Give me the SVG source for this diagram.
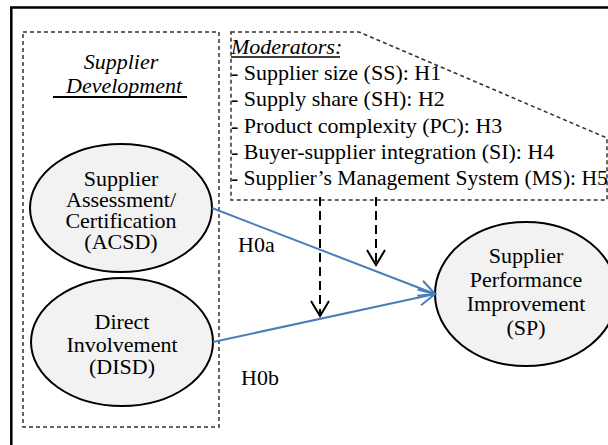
<svg xmlns="http://www.w3.org/2000/svg" width="608" height="445" viewBox="0 0 608 445">
<defs>
<marker id="ab" viewBox="0 0 20 20" refX="18" refY="10" markerWidth="20" markerHeight="20" markerUnits="userSpaceOnUse" orient="auto">
<path d="M2,2 L18,10 L2,18" fill="none" stroke="#4a7ebb" stroke-width="2"/>
</marker>
<marker id="ak" viewBox="0 0 20 20" refX="18" refY="10" markerWidth="20" markerHeight="20" markerUnits="userSpaceOnUse" orient="auto">
<path d="M3,1 L18,10 L3,19" fill="none" stroke="#000" stroke-width="2"/>
</marker>
</defs>
<rect width="608" height="445" fill="#fff"/>
<g id="frame">
<path d="M11.3,445 V7.5 H608" fill="none" stroke="#000" stroke-width="2.5"/>
</g>
<g id="supplier-development" font-family="Liberation Serif" font-size="22" font-style="italic">
<rect x="23" y="32" width="196" height="395" fill="none" stroke="#333" stroke-width="1.5" stroke-dasharray="4 3"/>
<text x="121" y="69" text-anchor="middle">Supplier</text>
<text x="66" y="93">Development</text>
<line x1="53" y1="97" x2="187" y2="97" stroke="#000" stroke-width="2"/>
</g>
<g id="moderators" font-family="Liberation Serif" font-size="22">
<path d="M231,32 H359 L607,138 V200 H231 Z" fill="none" stroke="#333" stroke-width="1.5" stroke-dasharray="4 3"/>
<text x="231" y="54" font-style="italic">Moderators:</text>
<line x1="231" y1="57" x2="340" y2="57" stroke="#000" stroke-width="1.5"/>
<text x="231" y="80">- Supplier size (SS): H1</text>
<text x="231" y="106">- Supply share (SH): H2</text>
<text x="231" y="133">- Product complexity (PC): H3</text>
<text x="231" y="159">- Buyer-supplier integration (SI): H4</text>
<text x="231" y="185" font-size="21.6">- Supplier’s Management System (MS): H5</text>
</g>
<g id="acsd" font-family="Liberation Serif" font-size="22" text-anchor="middle">
<ellipse cx="121" cy="208" rx="91" ry="64" fill="#f2f2f2" stroke="#000" stroke-width="2"/>
<text x="121" y="186">Supplier</text>
<text x="121" y="207">Assessment/</text>
<text x="121" y="228">Certification</text>
<text x="121" y="249">(ACSD)</text>
</g>
<g id="disd" font-family="Liberation Serif" font-size="22" text-anchor="middle">
<ellipse cx="122" cy="342" rx="91" ry="64" fill="#f2f2f2" stroke="#000" stroke-width="2"/>
<text x="122" y="329">Direct</text>
<text x="122" y="352">Involvement</text>
<text x="122" y="374">(DISD)</text>
</g>
<g id="sp" font-family="Liberation Serif" font-size="22" text-anchor="middle">
<ellipse cx="526" cy="294" rx="91" ry="72" fill="#f2f2f2" stroke="#000" stroke-width="2"/>
<text x="526" y="263">Supplier</text>
<text x="526" y="287">Performance</text>
<text x="526" y="311">Improvement</text>
<text x="526" y="335">(SP)</text>
</g>
<g id="connectors" font-family="Liberation Serif" font-size="22">
<line x1="212" y1="208" x2="435" y2="294" stroke="#4a7ebb" stroke-width="2" marker-end="url(#ab)"/>
<line x1="213" y1="342" x2="435" y2="294" stroke="#4a7ebb" stroke-width="2" marker-end="url(#ab)"/>
<line x1="320" y1="197" x2="320" y2="316" stroke="#000" stroke-width="2" stroke-dasharray="9 5" marker-end="url(#ak)"/>
<line x1="376" y1="197" x2="376" y2="265" stroke="#000" stroke-width="2" stroke-dasharray="9 5" marker-end="url(#ak)"/>
<text x="238" y="252">H0a</text>
<text x="241" y="385">H0b</text>
</g>
</svg>
